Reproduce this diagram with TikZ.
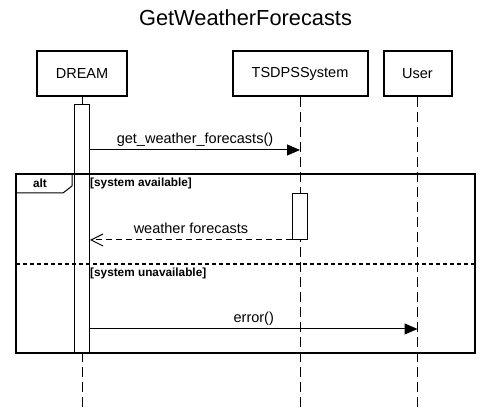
\documentclass[tikz,border=0pt]{standalone}
\usepackage{fontspec}
\setmainfont{Liberation Sans}
\usetikzlibrary{arrows.meta,positioning}
\tikzset{
	actor/.style={draw, line width=2pt, minimum height=45pt, inner sep=0pt, font=\fontsize{14.5}{16}\selectfont},
	lifeline/.style={line width=1pt, dash pattern=on 10pt off 5pt},
	activation/.style={draw, fill=white, line width=1pt, minimum width=15pt, inner sep=0pt, anchor=north},
	call/.style={line width=1pt, -{Triangle[length=13pt,width=11pt]}},
	reply/.style={line width=1pt, dash pattern=on 6pt off 4pt, -{Straight Barb[length=12pt,width=12pt]}},
	msg/.style={font=\fontsize{14.5}{16}\selectfont, inner sep=0pt, text depth=0pt, above=6pt},
	guard/.style={font=\bfseries\fontsize{11.8}{13}\selectfont, inner sep=0pt},
}

\begin{document}
\begin{tikzpicture}[x=1pt, y=-1pt]
			\useasboundingbox (0, 0) rectangle (491, 411);
			%%%%% START %%%%%
			\node[font=\fontsize{21.8}{24}\selectfont] (title) at (245.5, 18) {GetWeatherForecasts};
			
			\node[actor, minimum width=90pt] (dream) at (82, 74) {DREAM};
			\node[actor, minimum width=135pt] (tsdps) at (300, 74) {TSDPSSystem};
			\node[actor, minimum width=68pt] (user) at (417.5, 74) {User};
			
			\coordinate (dream end) at (82, 411);
			\coordinate (tsdps end) at (300, 411);
			\coordinate (user end) at (417.5, 411);
			\draw[lifeline] (dream.south) -- (dream end);
			\draw[lifeline] (tsdps.south) -- (tsdps end);
			\draw[lifeline] (user.south) -- (user end);
			
			\node[activation, minimum height=249pt] (dream act) at (82, 104) {};
			\node[activation, minimum height=46pt] (tsdps act) at (300, 193) {};
			
			% alt frame
			\draw[line width=2pt] (16, 174) rectangle (475, 353);
			\draw[line width=1pt] (16, 193) -- (63, 193) -- (72, 186) -- (72, 174);
			\node[guard] (alt) at (40, 183.5) {alt};
			\node[guard, anchor=west] (guard ok) at (90, 183.5) {[system available]};
			\draw[line width=2pt, dash pattern=on 4pt off 3pt] (16, 264) -- (475, 264);
			\node[guard, anchor=west] (guard fail) at (90, 273.5) {[system unavailable]};
			
			% messages
			\coordinate (ask) at (300, 150);
			\coordinate (fail) at (417.5, 329);
			\draw[call] (ask -| dream act.east) -- node[msg] {get\_weather\_forecasts()} (ask);
			\draw[reply] (tsdps act.south west) -- node[msg] {weather forecasts} (tsdps act.south west -| dream act.east);
			\draw[call] (fail -| dream act.east) -- node[msg] {error()} (fail);
			%%%%% END %%%%%
\end{tikzpicture}
\end{document}
